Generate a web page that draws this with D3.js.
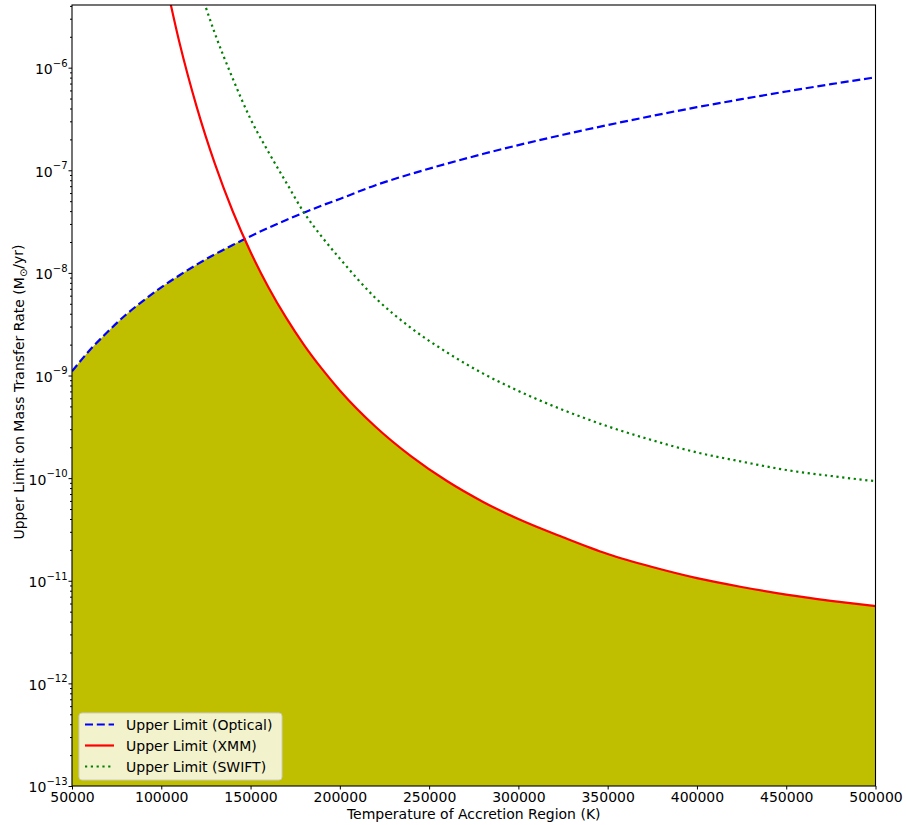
<!DOCTYPE html>
<html>
<head>
<meta charset="utf-8">
<script src="https://cdn.jsdelivr.net/npm/d3@7"></script>
<style>
  html, body { margin: 0; padding: 0; background: #ffffff; }
  svg { display: block; }
  text { font-family: "DejaVu Sans", sans-serif; fill: #000; }
</style>
</head>
<body>
<svg id="chart" width="906" height="825"></svg>
<script>
// ---------------- data ----------------
const temperature = [50000, 60000, 70000, 80000, 90000, 100000, 110000, 120000, 130000, 140000,
  150000, 160000, 170000, 180000, 190000, 200000, 220000, 240000, 260000, 280000,
  300000, 325000, 350000, 375000, 400000, 425000, 450000, 475000, 500000];

const opticalLimit = [1.10e-9, 1.77e-9, 2.67e-9, 3.89e-9, 5.37e-9, 7.24e-9, 9.44e-9, 1.21e-8, 1.52e-8, 1.87e-8,
  2.28e-8, 2.75e-8, 3.28e-8, 3.87e-8, 4.54e-8, 5.26e-8, 7.16e-8, 9.23e-8, 1.16e-7, 1.44e-7,
  1.76e-7, 2.22e-7, 2.76e-7, 3.39e-7, 4.12e-7, 4.93e-7, 5.86e-7, 6.90e-7, 8.05e-7];

const xmmLimit = [null, null, null, null, null, 1.11e-5, 1.81e-6, 4.06e-7, 1.16e-7, 3.99e-8,
  1.60e-8, 7.26e-9, 3.64e-9, 1.98e-9, 1.16e-9, 7.16e-10, 3.17e-10, 1.63e-10, 9.37e-11, 5.90e-11,
  3.99e-11, 2.65e-11, 1.82e-11, 1.36e-11, 1.06e-11, 8.7e-12, 7.33e-12, 6.38e-12, 5.66e-12];

const swiftLimit = [null, null, null, null, null, null, null, 7.1e-6, 2.16e-6, 7.85e-7,
  3.16e-7, 1.51e-7, 7.59e-8, 3.85e-8, 2.24e-8, 1.38e-8, 5.69e-9, 2.90e-9, 1.68e-9, 1.05e-9,
  7.08e-10, 4.62e-10, 3.20e-10, 2.34e-10, 1.78e-10, 1.45e-10, 1.20e-10, 1.05e-10, 9.33e-11];

const xTicks = [50000, 100000, 150000, 200000, 250000, 300000, 350000, 400000, 450000, 500000];
const yTickExponents = [-13, -12, -11, -10, -9, -8, -7, -6];
const seriesNames = ["Upper Limit (Optical)", "Upper Limit (XMM)", "Upper Limit (SWIFT)"];
const seriesColors = ["#0000ff", "#ff0000", "#008000"];
const xLabel = "Temperature of Accretion Region (K)";

// ---------------- layout ----------------
const svg = d3.select("#chart");
const plot = { left: 72, right: 875.5, top: 5, bottom: 786 };

const x = d3.scaleLinear().domain([50000, 500000]).range([plot.left, plot.right]);
const y = d3.scaleLog().domain([1e-13, 4.08e-6]).range([plot.bottom, plot.top]);

const defs = svg.append("defs");
defs.append("clipPath").attr("id", "plotClip")
  .append("rect")
  .attr("x", plot.left).attr("y", plot.top)
  .attr("width", plot.right - plot.left).attr("height", plot.bottom - plot.top);

const rows = temperature.map((t, i) => ({ t, opt: opticalLimit[i], xmm: xmmLimit[i], swift: swiftLimit[i] }));

// clip = region below the XMM curve (XMM is off the top of the chart before its first value)
const underXmm = defs.append("clipPath").attr("id", "underXmm");
const xmmRows = rows.filter(r => r.xmm != null);
underXmm.append("path")
  .attr("d", d3.area().x(r => x(r.t)).y0(plot.bottom + 10).y1(r => y(r.xmm)).curve(d3.curveMonotoneX)(xmmRows));
underXmm.append("rect")
  .attr("x", x(50000) - 10).attr("y", -2000)
  .attr("width", x(xmmRows[0].t) - x(50000) + 10).attr("height", 4000);

const gPlot = svg.append("g").attr("clip-path", "url(#plotClip)");

// shaded allowed region: below both optical and XMM limits
gPlot.append("g").attr("clip-path", "url(#underXmm)")
  .append("path")
  .attr("d", d3.area().x(r => x(r.t)).y0(plot.bottom + 10).y1(r => y(r.opt)).curve(d3.curveMonotoneX)(rows))
  .attr("fill", "#bfbf00");

const line = key => d3.line()
  .defined(r => r[key] != null)
  .x(r => x(r.t)).y(r => y(r[key]))
  .curve(d3.curveMonotoneX);

gPlot.append("path").attr("d", line("opt")(rows))
  .attr("fill", "none").attr("stroke", seriesColors[0]).attr("stroke-width", 2.2)
  .attr("stroke-dasharray", "8,3.8");
gPlot.append("path").attr("d", line("xmm")(rows))
  .attr("fill", "none").attr("stroke", seriesColors[1]).attr("stroke-width", 2.2);
gPlot.append("path").attr("d", line("swift")(rows))
  .attr("fill", "none").attr("stroke", seriesColors[2]).attr("stroke-width", 2.2)
  .attr("stroke-dasharray", "2.2,3.6");

// ---------------- axes ----------------
const xAxis = d3.axisBottom(x).tickValues(xTicks).tickSize(3.5).tickPadding(2.5).tickFormat(d3.format("d"));
const gx = svg.append("g").attr("transform", `translate(0,${plot.bottom})`).call(xAxis);
gx.select(".domain").remove();
gx.selectAll("text").attr("font-size", 14).attr("font-family", "DejaVu Sans").attr("fill", "#000");

const majorY = yTickExponents.map(e => Math.pow(10, e));
const minorY = [];
for (let e = -13; e <= -6; e++) for (let m = 2; m <= 9; m++) {
  const v = m * Math.pow(10, e);
  if (v <= 4.08e-6) minorY.push(v);
}
const gyMinor = svg.append("g").attr("transform", `translate(${plot.left},0)`)
  .call(d3.axisLeft(y).tickValues(minorY).tickSize(2).tickFormat(""));
gyMinor.select(".domain").remove();

const gy = svg.append("g").attr("transform", `translate(${plot.left},0)`)
  .call(d3.axisLeft(y).tickValues(majorY).tickSize(3.5).tickPadding(3).tickFormat(""));
gy.select(".domain").remove();
gy.selectAll(".tick").each(function(d) {
  const e = Math.round(Math.log10(d));
  const t = d3.select(this).append("text")
    .attr("x", -4.5).attr("y", 0).attr("dy", "0.42em")
    .attr("text-anchor", "end").attr("font-size", 14).attr("fill", "#000");
  t.append("tspan").text("10");
  t.append("tspan").attr("font-size", 10).attr("dy", "-0.75em").text("\u2212" + Math.abs(e));
});

// frame
svg.append("rect")
  .attr("x", plot.left).attr("y", plot.top)
  .attr("width", plot.right - plot.left).attr("height", plot.bottom - plot.top)
  .attr("fill", "none").attr("stroke", "#000").attr("stroke-width", 1.1);

// axis labels
svg.append("text").attr("x", (plot.left + plot.right) / 2).attr("y", 819)
  .attr("text-anchor", "middle").attr("font-size", 14).text(xLabel);

const yl = svg.append("text")
  .attr("transform", `translate(24,${392}) rotate(-90)`)
  .attr("text-anchor", "middle").attr("font-size", 14);
yl.append("tspan").text("Upper Limit on Mass Transfer Rate (M");
yl.append("tspan").attr("font-size", 10).attr("dy", "0.3em").text("\u2299");
yl.append("tspan").attr("dy", "-0.3em").text("/yr)");

// ---------------- legend ----------------
const lg = svg.append("g");
lg.append("rect").attr("x", 79).attr("y", 713).attr("width", 203).attr("height", 67)
  .attr("rx", 3).attr("fill", "#ffffff").attr("fill-opacity", 0.8)
  .attr("stroke", "#cccccc").attr("stroke-width", 1);
const dashes = ["8,3.8", null, "2.2,3.6"];
seriesNames.forEach((name, i) => {
  const yy = 724.5 + i * 21;
  lg.append("line").attr("x1", 85).attr("x2", 114).attr("y1", yy).attr("y2", yy)
    .attr("stroke", seriesColors[i]).attr("stroke-width", 2.2)
    .attr("stroke-dasharray", dashes[i]);
  lg.append("text").attr("x", 126).attr("y", yy).attr("dy", "0.36em")
    .attr("font-size", 14).text(name);
});
</script>
</body>
</html>
